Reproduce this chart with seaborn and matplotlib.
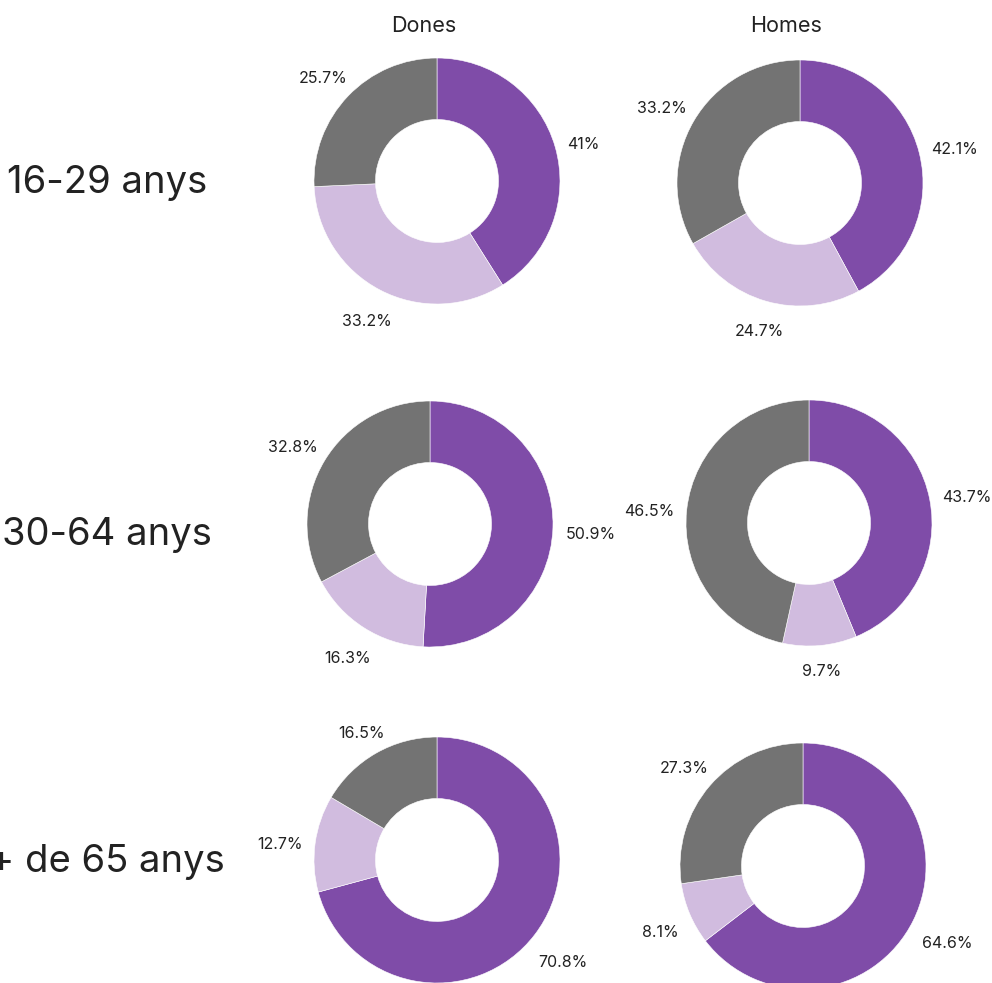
import numpy as np
import matplotlib
matplotlib.use("Agg")
import matplotlib.pyplot as plt
import seaborn as sns

# data
row_labels = ["16-29 anys", "30-64 anys", "+ de 65 anys"]
col_labels = ["Dones", "Homes"]
dones = [[41, 33.2, 25.7], [50.9, 16.3, 32.8], [70.8, 12.7, 16.5]]
homes = [[42.1, 24.7, 33.2], [43.7, 9.7, 46.5], [64.6, 8.1, 27.3]]

colors = ["#7f4ca8", "#d1bcdf", "#737373"]

sns.set_theme(style="white")
plt.rcParams["font.family"] = ["Inter", "DejaVu Sans"]

W, H = 992, 983
fig = plt.figure(figsize=(W / 100, H / 100), dpi=100)
renderer = fig.canvas.get_renderer()

# donut centres in pixels (col x, row y)
centers = {
    (0, 0): (437, 181), (0, 1): (800, 183),
    (1, 0): (430, 524), (1, 1): (809, 523),
    (2, 0): (437, 860), (2, 1): (803, 866),
}
R = 123        # outer radius in px
lim = 1.3
side = 2 * R * lim
gap = 1.10     # the label box's nearest edge sits at this radius
drop = 6 / R   # labels sit a few px lower in the original


def fmt(v):
    return f"{v:g}%"


for r in range(3):
    for c, data in enumerate([dones, homes]):
        cx, cy = centers[(r, c)]
        ax = fig.add_axes([(cx - side / 2) / W, 1 - (cy + side / 2) / H, side / W, side / H])
        vals = data[r]
        wedges, _ = ax.pie(
            vals, colors=sns.color_palette(colors),
            startangle=90, counterclock=False,
            wedgeprops=dict(width=0.5, edgecolor="white", linewidth=0.4),
        )
        for w, v in zip(wedges, vals):
            mid = np.deg2rad((w.theta1 + w.theta2) / 2)
            ux, uy = np.cos(mid), np.sin(mid)
            t = ax.text(0, 0, fmt(v), ha="center", va="center", fontsize=11.5, color="#222222")
            bb = t.get_window_extent(renderer)
            hw, hh = bb.width / 2 / R, bb.height / 2 / R * 0.8
            d = gap + hw * abs(ux) + hh * abs(uy)
            t.set_position((d * ux, d * uy - drop))
        ax.set_xlim(-lim, lim)
        ax.set_ylim(-lim, lim)
        ax.set_aspect("equal")
        ax.axis("off")

# column titles
fig.text(424 / W, 1 - 26 / H, col_labels[0], ha="center", va="center", fontsize=15.5, color="#222222")
fig.text(786 / W, 1 - 26 / H, col_labels[1], ha="center", va="center", fontsize=15.5, color="#222222")

# row labels
for lbl, y in zip(row_labels, [183, 535, 862]):
    fig.text(107 / W, 1 - y / H, lbl, ha="center", va="center", fontsize=27.5, color="#222222")

fig.savefig("out.png", dpi=100, facecolor="white")
